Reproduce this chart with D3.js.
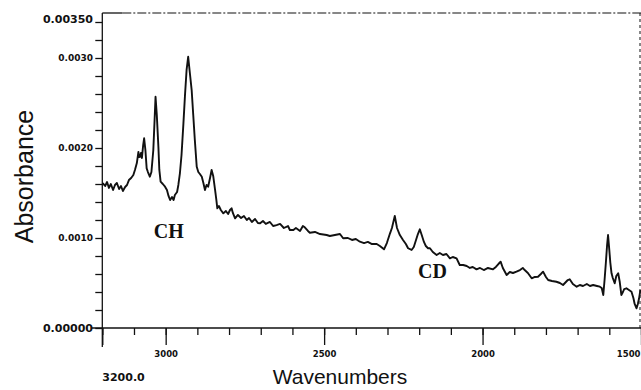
<!DOCTYPE html>
<html>
<head>
<meta charset="utf-8">
<script src="https://cdn.jsdelivr.net/npm/d3@7"></script>
<style>
  html, body { margin: 0; padding: 0; background: #fff; }
  svg { display: block; }
</style>
</head>
<body>
<svg id="chart" width="641" height="390"></svg>
<script>
// ---- data (absorbance given in units of 1e-3) ----
const wavenumbers = [
  3199,3191,3185,3179,3173,3166,3160,3154,3147,3141,
  3135,3128,3122,3116,3109,3102,3097,3091,3086,3084,
  3081,3078,3075,3071,3068,3064,3060,3056,3050,3045,
  3039,3035,3032,3028,3023,3020,3016,3009,3002,2996,
  2991,2986,2980,2975,2971,2964,2960,2955,2950,2944,
  2939,2934,2929,2923,2918,2913,2908,2902,2897,2892,
  2886,2881,2876,2871,2866,2860,2855,2850,2844,2840,
  2837,2832,2826,2818,2810,2803,2797,2792,2788,2781,
  2772,2762,2753,2744,2737,2728,2718,2709,2702,2693,
  2684,2671,2661,2650,2639,2627,2614,2608,2597,2589,
  2576,2567,2561,2551,2545,2529,2513,2492,2482,2466,
  2450,2440,2425,2412,2400,2387,2374,2362,2349,2334,
  2324,2311,2302,2292,2286,2277,2270,2261,2251,2242,
  2235,2224,2217,2210,2204,2198,2192,2185,2179,2172,
  2166,2157,2145,2135,2125,2114,2103,2094,2082,2072,
  2061,2050,2040,2031,2019,2008,1996,1983,1967,1958,
  1950,1943,1936,1924,1914,1904,1893,1882,1873,1867,
  1857,1845,1835,1825,1816,1809,1800,1793,1781,1767,
  1756,1746,1737,1731,1725,1715,1703,1693,1683,1671,
  1661,1651,1639,1630,1624,1619,1615,1611,1607,1604,
  1600,1597,1593,1589,1583,1578,1572,1567,1562,1557,
  1553,1546,1538,1530,1524,1520,1514,1510,1506,1502
];
const absorbanceE3 = [
  1.611,1.578,1.622,1.556,1.600,1.533,1.589,1.611,1.544,1.578,
  1.522,1.567,1.589,1.644,1.667,1.700,1.756,1.833,1.956,1.900,
  1.903,1.944,1.889,2.033,2.108,1.978,1.774,1.733,1.681,1.733,
  1.978,2.311,2.570,2.367,2.014,1.756,1.626,1.600,1.570,1.533,
  1.467,1.422,1.456,1.422,1.478,1.511,1.589,1.722,1.922,2.274,
  2.589,2.867,3.014,2.811,2.644,2.367,2.089,1.792,1.733,1.711,
  1.681,1.611,1.533,1.589,1.570,1.667,1.756,1.689,1.533,1.422,
  1.330,1.356,1.311,1.274,1.300,1.267,1.311,1.330,1.278,1.219,
  1.256,1.222,1.244,1.200,1.222,1.178,1.211,1.167,1.163,1.189,
  1.156,1.178,1.133,1.144,1.156,1.111,1.133,1.089,1.089,1.111,
  1.078,1.133,1.119,1.078,1.059,1.067,1.044,1.033,1.022,1.033,
  1.044,0.997,1.000,0.978,0.989,0.959,0.944,0.956,0.933,0.933,
  0.911,0.874,0.944,1.052,1.111,1.244,1.111,1.033,0.978,0.933,
  0.886,0.867,0.900,0.978,1.044,1.097,1.033,0.956,0.911,0.886,
  0.886,0.844,0.811,0.833,0.811,0.822,0.774,0.789,0.774,0.700,
  0.700,0.689,0.667,0.678,0.652,0.667,0.644,0.667,0.652,0.678,
  0.711,0.737,0.667,0.589,0.622,0.611,0.626,0.644,0.667,0.644,
  0.611,0.552,0.567,0.570,0.600,0.626,0.567,0.533,0.522,0.514,
  0.500,0.478,0.511,0.533,0.541,0.489,0.459,0.478,0.467,0.489,
  0.467,0.478,0.467,0.459,0.444,0.367,0.533,0.719,0.922,1.033,
  0.867,0.733,0.608,0.556,0.497,0.578,0.608,0.511,0.367,0.400,
  0.433,0.441,0.422,0.403,0.333,0.267,0.219,0.267,0.330,0.422
];
const xMajorTicks = [3200, 3000, 2500, 2000, 1500];
const xTickLabels = ["3200.0", "3000", "2500", "2000", "1500"];
const yLabelValues = [0, 1, 2, 3, 3.5];
const yTickLabels = ["0.00000", "0.0010", "0.0020", "0.0030", "0.00350"];
const annotations = [
  { text: "CH", wn: 2990, a: 1.00 },
  { text: "CD", wn: 2158, a: 0.56 }
];
const xTitle = "Wavenumbers";
const yTitle = "Absorbance";

// ---- scales ----
const X0 = 102.3, X1 = 641, Y0 = 328, Y1 = 13;
const x = d3.scaleLinear().domain([3200, 1500]).range([X0, X1]);
const y = d3.scaleLinear().domain([0, 3.5]).range([Y0, Y1]);

const svg = d3.select("#chart");
svg.append("rect").attr("width", 641).attr("height", 390).attr("fill", "#fff");

const ink = "#111";

// frame: top dashed, right dashed
svg.append("line").attr("x1", X0).attr("x2", X0 + 20).attr("y1", Y1).attr("y2", Y1)
  .attr("stroke", ink).attr("stroke-width", 1.3);
svg.append("line").attr("x1", X0 + 20).attr("x2", X1).attr("y1", Y1).attr("y2", Y1)
  .attr("stroke", ink).attr("stroke-width", 1.1).attr("stroke-dasharray", "9,2,2,2");
svg.append("line").attr("x1", 640).attr("x2", 640).attr("y1", Y1).attr("y2", Y0)
  .attr("stroke", ink).attr("stroke-width", 1).attr("stroke-dasharray", "3,3");

// x axis: minor ticks
const xMinor = d3.axisBottom(x).tickValues(d3.range(1500, 3201, 100)).tickSize(7).tickFormat("");
const gxm = svg.append("g").attr("transform", `translate(0,${Y0})`).call(xMinor);
// x axis: major ticks
const xMajor = d3.axisBottom(x).tickValues(xMajorTicks).tickSize(17).tickPadding(4)
  .tickFormat((d, i) => i === 0 ? "" : xTickLabels[i]);
const gxM = svg.append("g").attr("transform", `translate(0,${Y0})`).call(xMajor);
[gxm, gxM].forEach(g => {
  g.select(".domain").remove();
  g.selectAll(".tick line").attr("stroke", ink).attr("stroke-width", 1.3);
});
gxM.selectAll(".tick text")
  .attr("font-family", "DejaVu Sans, sans-serif").attr("font-weight", "bold")
  .attr("font-size", 8.5).attr("fill", ink)
  .attr("y", 23);
gxM.selectAll(".tick text").filter(d => d === 1500).attr("text-anchor", "end").attr("dx", "-1");
// first label below
svg.append("text").attr("x", x(xMajorTicks[0])).attr("y", 381)
  .attr("font-family", "DejaVu Sans, sans-serif").attr("font-weight", "bold")
  .attr("font-size", 11).attr("fill", ink).text(xTickLabels[0]);

// x axis line
svg.append("line").attr("x1", 92).attr("x2", X1).attr("y1", Y0).attr("y2", Y0)
  .attr("stroke", ink).attr("stroke-width", 1.3);

// y axis minor ticks
const yMinor = d3.axisLeft(y).tickValues(d3.range(0, 3.41, 0.2)).tickSize(7).tickFormat("");
const gym = svg.append("g").attr("transform", `translate(${X0},0)`).call(yMinor);
gym.select(".domain").remove();
gym.selectAll(".tick line").attr("stroke", ink).attr("stroke-width", 1.3);

// y labels
const yLab = svg.append("g");
yLabelValues.forEach((v, i) => {
  const big = (i === 0 || i === yLabelValues.length - 1);
  yLab.append("text")
    .attr("x", 93)
    .attr("y", y(v) + (i === yLabelValues.length - 1 ? 6 : 0))
    .attr("dy", "0.36em")
    .attr("text-anchor", "end")
    .attr("font-family", "DejaVu Sans, sans-serif").attr("font-weight", "bold")
    .attr("font-size", big ? 11 : 9).attr("fill", ink)
    .text(yTickLabels[i]);
});

// y axis line
svg.append("line").attr("x1", X0).attr("x2", X0).attr("y1", Y1).attr("y2", 347)
  .attr("stroke", ink).attr("stroke-width", 1.3);

// spectrum
const data = wavenumbers.map((w, i) => [w, absorbanceE3[i]]);
svg.append("path").datum(data)
  .attr("d", d3.line().x(d => x(d[0])).y(d => y(d[1])))
  .attr("fill", "none").attr("stroke", ink).attr("stroke-width", 1.9)
  .attr("stroke-linejoin", "round");

// annotations
annotations.forEach(a => {
  svg.append("text").attr("x", x(a.wn)).attr("y", y(a.a))
    .attr("text-anchor", "middle")
    .attr("font-family", "Liberation Serif, serif").attr("font-weight", "bold")
    .attr("font-size", 20).attr("fill", ink).text(a.text);
});

// axis titles
svg.append("text").attr("x", 340).attr("y", 384).attr("text-anchor", "middle")
  .attr("font-family", "Liberation Sans, Arial, sans-serif").attr("font-size", 21)
  .attr("fill", ink).text(xTitle);
svg.append("text").attr("transform", "translate(32.5,176.5) rotate(-90)")
  .attr("text-anchor", "middle")
  .attr("font-family", "Liberation Sans, Arial, sans-serif").attr("font-size", 25)
  .attr("fill", ink).text(yTitle);
</script>
</body>
</html>
